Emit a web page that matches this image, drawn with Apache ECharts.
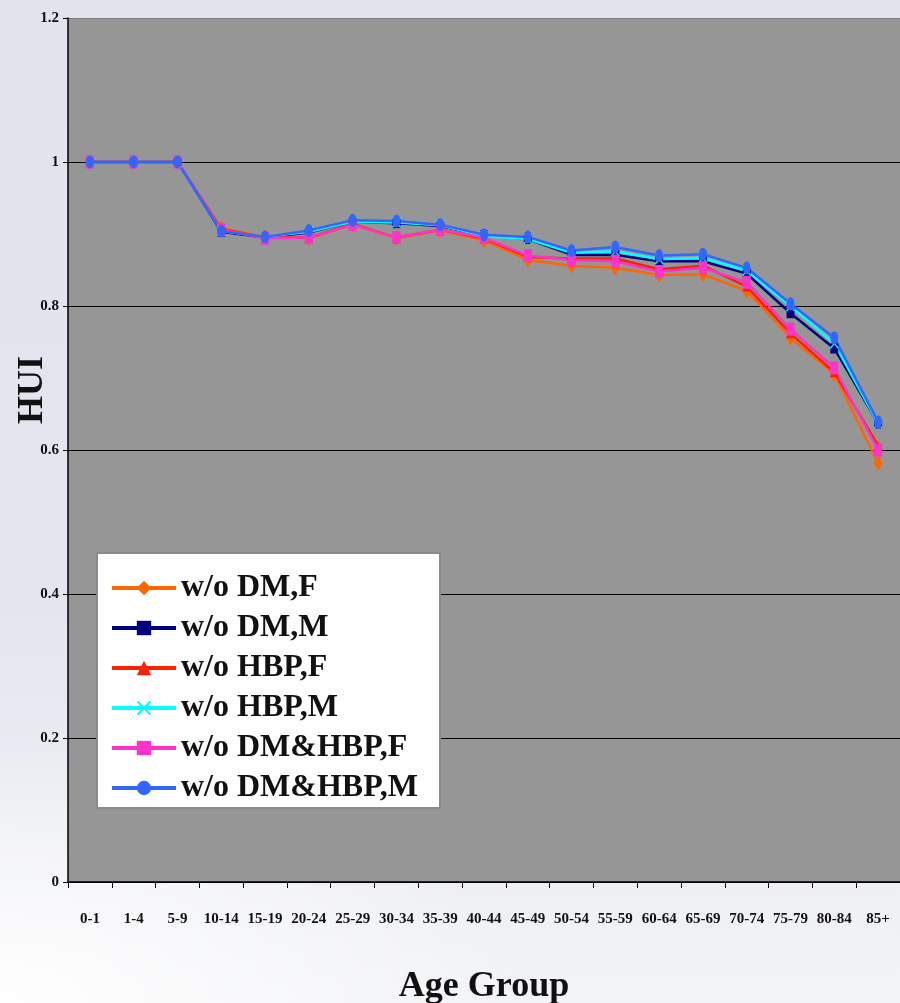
<!DOCTYPE html>
<html>
<head>
<meta charset="utf-8">
<script src="https://cdn.jsdelivr.net/npm/echarts@6/dist/echarts.min.js"></script>
<style>
    html, body {
        margin: 0;
        padding: 0;
    }
    body {
        width: 900px;
        height: 1003px;
        background:
            radial-gradient(ellipse 520px 260px at 0% 100%, rgba(255, 255, 255, 0.95) 0%, rgba(255, 255, 255, 0) 100%),
            linear-gradient(180deg, #e1e4ed 0%, #e3e6ee 60%, #f3f4f7 100%);
    }
    #chart {
        width: 900px;
        height: 1003px;
    }
</style>
</head>
<body>
<div id="chart"></div>
<script>
// 年龄组
const ageGroups = ['0-1', '1-4', '5-9', '10-14', '15-19', '20-24', '25-29', '30-34', '35-39',
    '40-44', '45-49', '50-54', '55-59', '60-64', '65-69', '70-74', '75-79', '80-84', '85+'];

// 各组 HUI 值
const dmF = [1, 1, 1, 0.908, 0.896, 0.894, 0.913, 0.894, 0.905, 0.891, 0.864, 0.856, 0.853, 0.843, 0.844, 0.821, 0.756, 0.706, 0.582];
const dmM = [1, 1, 1, 0.903, 0.895, 0.902, 0.917, 0.915, 0.911, 0.898, 0.893, 0.871, 0.871, 0.862, 0.862, 0.845, 0.790, 0.741, 0.637];
const hbpF = [1, 1, 1, 0.907, 0.895, 0.895, 0.914, 0.895, 0.906, 0.894, 0.868, 0.866, 0.866, 0.851, 0.856, 0.827, 0.762, 0.708, 0.606];
const hbpM = [1, 1, 1, 0.904, 0.896, 0.903, 0.917, 0.916, 0.912, 0.897, 0.893, 0.874, 0.876, 0.865, 0.867, 0.849, 0.800, 0.748, 0.637];
const dmHbpF = [1, 1, 1, 0.906, 0.894, 0.895, 0.913, 0.895, 0.906, 0.895, 0.870, 0.864, 0.862, 0.848, 0.853, 0.833, 0.768, 0.714, 0.600];
const dmHbpM = [1, 1, 1, 0.904, 0.896, 0.905, 0.919, 0.918, 0.913, 0.899, 0.896, 0.877, 0.882, 0.870, 0.872, 0.853, 0.803, 0.756, 0.639];

const FONT = '"Liberation Serif", "Times New Roman", serif';
const CROSS = 'path://M0,1L1,0L5,4L9,0L10,1L6,5L10,9L9,10L5,6L1,10L0,9L4,5Z';

function makeSeries(name, data, color, symbol, size) {
    return {
        name: name,
        type: 'line',
        data: data,
        symbol: symbol,
        symbolSize: size,
        showAllSymbol: true,
        lineStyle: {
            color: color,
            width: 2.5
        },
        itemStyle: {
            color: color
        },
        emphasis: { disabled: true },
        animation: false
    };
}

const chart = echarts.init(document.getElementById('chart'), null, { renderer: 'canvas' });

chart.setOption({
    animation: false,
    grid: {
        left: 68,
        right: 0,
        top: 18,
        bottom: 121,
        containLabel: false,
        outerBoundsMode: 'none',
        show: true,
        backgroundColor: '#969696',
        borderWidth: 0
    },
    legend: {
        orient: 'vertical',
        left: 97,
        top: 553,
        padding: [19, 22, 4, 13],
        itemWidth: 64,
        itemHeight: 18,
        itemGap: 8,
        backgroundColor: '#ffffff',
        borderColor: '#8a8a8a',
        borderWidth: 2,
        borderRadius: 0,
        lineStyle: {
            width: 4
        },
        textStyle: {
            fontFamily: FONT,
            fontWeight: 'bold',
            fontSize: 32,
            color: '#111'
        },
        data: ['w/o DM,F', 'w/o DM,M', 'w/o HBP,F', 'w/o HBP,M', 'w/o DM&HBP,F', 'w/o DM&HBP,M']
    },
    xAxis: {
        type: 'category',
        data: ageGroups,
        boundaryGap: true,
        name: 'Age Group',
        nameLocation: 'middle',
        nameGap: 87,
        nameMoveOverlap: false,
        nameTextStyle: {
            fontFamily: FONT,
            fontWeight: 'bold',
            fontSize: 36,
            color: '#111'
        },
        axisLine: {
            lineStyle: { color: '#000', width: 1.5 }
        },
        axisTick: {
            show: true,
            length: 6,
            lineStyle: { color: '#000' }
        },
        axisLabel: {
            interval: 0,
            margin: 30,
            fontFamily: FONT,
            fontWeight: 'bold',
            fontSize: 15,
            color: '#111'
        },
        splitLine: { show: false }
    },
    yAxis: {
        type: 'value',
        min: 0,
        max: 1.2,
        interval: 0.2,
        name: 'HUI',
        nameLocation: 'middle',
        nameRotate: 90,
        nameGap: 17,
        nameMoveOverlap: false,
        nameTextStyle: {
            fontFamily: FONT,
            fontWeight: 'bold',
            fontSize: 36,
            color: '#111',
            padding: [0, 0, 0, 120]
        },
        axisLine: {
            show: true,
            lineStyle: { color: '#000', width: 1.5 }
        },
        axisTick: {
            show: true,
            length: 5,
            lineStyle: { color: '#000' }
        },
        axisLabel: {
            margin: 9,
            fontFamily: FONT,
            fontWeight: 'bold',
            fontSize: 15,
            color: '#111'
        },
        splitLine: {
            show: true,
            lineStyle: {
                color: ['#000', '#000', '#000', '#000', '#000', '#000', '#7a7a7a'],
                width: 1
            }
        }
    },
    series: [
        makeSeries('w/o DM,F', dmF, '#ff6600', 'diamond', [9, 16]),
        makeSeries('w/o DM,M', dmM, '#000080', 'rect', [8, 10]),
        makeSeries('w/o HBP,F', hbpF, '#ff2000', 'triangle', [9, 10]),
        makeSeries('w/o HBP,M', hbpM, '#00ffff', CROSS, [9, 11]),
        makeSeries('w/o DM&HBP,F', dmHbpF, '#ff33cc', 'rect', [8, 13]),
        makeSeries('w/o DM&HBP,M', dmHbpM, '#3366ff', 'circle', [8, 13])
    ]
});
</script>
</body>
</html>
